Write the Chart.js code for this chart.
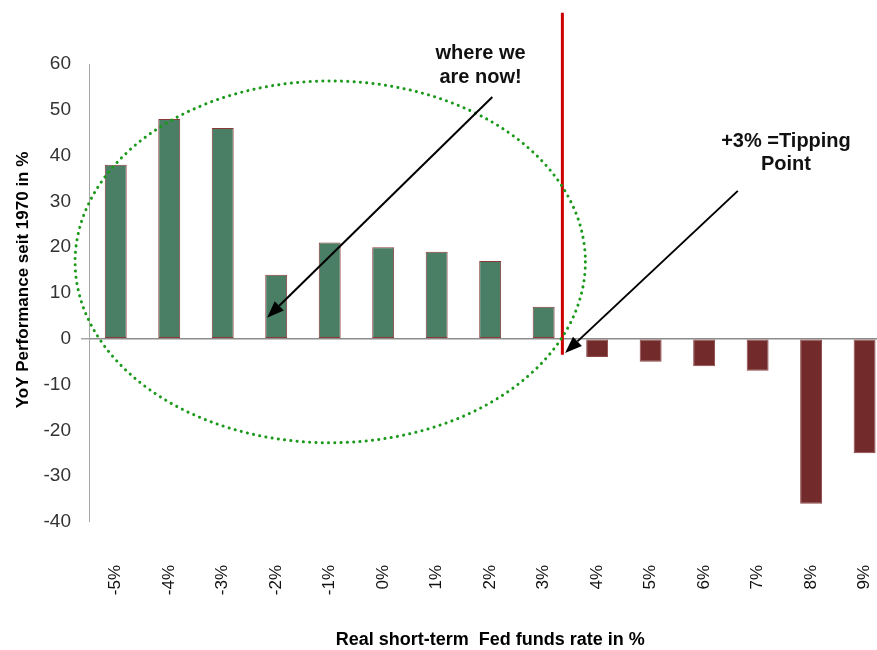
<!DOCTYPE html>
<html lang="en">
<head>
  <meta charset="UTF-8">
  <title>Real short-term Fed funds rate vs YoY performance</title>
  <style>
    html, body {
      margin: 0;
      padding: 0;
      overflow: hidden;
      background: #fff;
    }

    .chart-box {
      width: 920px;   /* plot runs a little past the right edge, like the original */
      height: 650px;
    }
  </style>
  <script src="https://cdn.jsdelivr.net/npm/chart.js"></script>
</head>

<body>
  <div class="chart-box"><canvas id="myChart"></canvas></div>

  <script>
    // data
    const rateLabels = ['-5%', '-4%', '-3%', '-2%', '-1%', '0%', '1%', '2%', '3%', '4%', '5%', '6%', '7%', '8%', '9%'];
    const perfValues = [38, 48, 46, 14, 21, 20, 19, 17, 7, -4, -5, -6, -7, -36, -25];
    const yMin = -40;
    const yMax = 60;
    const yStep = 10;

    const yTitle = 'YoY Performance seit 1970 in %';
    const xTitle = 'Real short-term  Fed funds rate in %';
    const noteNow = ['where we', 'are now!'];
    const noteTip = ['+3% =Tipping', 'Point'];

    const upFill = '#4a7f66', upEdge = '#8b3a3a';
    const downFill = '#722a2a', downEdge = '#8e4848';

    // overlay drawing: red line, dotted circle, arrows, notes and axis titles
    // (x given as category index, y as chart value)
    const overlay = {
      id: 'overlay',
      afterDraw(chart) {
        const ctx = chart.ctx;
        const xs = chart.scales.x, ys = chart.scales.y;
        const x0 = xs.getPixelForValue(0);
        const step = xs.getPixelForValue(1) - x0;
        const px = i => x0 + i * step;
        const py = v => ys.getPixelForValue(v);

        ctx.save();

        // red tipping point line
        ctx.strokeStyle = '#cc0000';
        ctx.lineWidth = 3;
        ctx.beginPath();
        ctx.moveTo(px(8.35), py(71.2));
        ctx.lineTo(px(8.35), py(-3.5));
        ctx.stroke();

        // dotted green ellipse
        ctx.strokeStyle = '#1a991a';
        ctx.lineWidth = 3;
        ctx.lineCap = 'round';
        ctx.setLineDash([0.1, 6.2]);
        ctx.beginPath();
        ctx.ellipse(px(4.01), py(16.8), 4.77 * step, py(0) - py(39.5), 0, 0, Math.PI * 2);
        ctx.stroke();
        ctx.setLineDash([]);
        ctx.lineCap = 'butt';

        // arrows
        function arrow(fx, fy, tx, ty) {
          const ang = Math.atan2(ty - fy, tx - fx);
          const len = 17, half = 6.5;
          const bx = tx - len * Math.cos(ang), by = ty - len * Math.sin(ang);
          ctx.strokeStyle = '#000';
          ctx.fillStyle = '#000';
          ctx.lineWidth = 2;
          ctx.beginPath();
          ctx.moveTo(fx, fy);
          ctx.lineTo(bx, by);
          ctx.stroke();
          ctx.beginPath();
          ctx.moveTo(tx, ty);
          ctx.lineTo(bx + half * Math.sin(ang), by - half * Math.cos(ang));
          ctx.lineTo(bx - half * Math.sin(ang), by + half * Math.cos(ang));
          ctx.closePath();
          ctx.fill();
        }
        arrow(px(7.04), py(52.8), px(2.83), py(4.6));
        arrow(px(11.63), py(32.3), px(8.40), py(-3.1));

        // notes
        ctx.fillStyle = '#111';
        ctx.font = 'bold 20px "Liberation Sans", Arial, sans-serif';
        ctx.textAlign = 'center';
        ctx.textBaseline = 'middle';
        ctx.fillText(noteNow[0], px(6.82), py(62.3));
        ctx.fillText(noteNow[1], px(6.82), py(57.1));
        ctx.fillText(noteTip[0], px(12.53), py(43.0));
        ctx.fillText(noteTip[1], px(12.53), py(38.0));

        // axis titles
        ctx.fillStyle = '#000';
        ctx.font = 'bold 18px "Liberation Sans", Arial, sans-serif';
        ctx.fillText(xTitle, (chart.chartArea.left + chart.chartArea.right) / 2, 640);
        ctx.translate(23, 280);
        ctx.rotate(-Math.PI / 2);
        ctx.font = 'bold 17px "Liberation Sans", Arial, sans-serif';
        ctx.fillText(yTitle, 0, 0);

        ctx.restore();
      }
    };

    const ctx = document.getElementById('myChart').getContext('2d');
    window.myChart = new Chart(ctx, {
      type: 'bar',
      data: {
        labels: rateLabels,
        datasets: [{
          data: perfValues,
          backgroundColor: perfValues.map(v => v >= 0 ? upFill : downFill),
          borderColor: perfValues.map(v => v >= 0 ? upEdge : downEdge),
          borderWidth: 1,
          borderSkipped: false,
          categoryPercentage: 1,
          barPercentage: 0.41
        }]
      },
      options: {
        responsive: true,
        maintainAspectRatio: false,
        animation: false,
        layout: { padding: { top: 64, left: 0, right: 0, bottom: 0 } },
        plugins: {
          legend: { display: false },
          tooltip: { enabled: false }
        },
        scales: {
          x: {
            type: 'category',
            grid: { display: false },
            border: { display: false },
            ticks: {
              autoSkip: false,
              minRotation: 90,
              maxRotation: 90,
              padding: 35,
              color: '#111',
              font: { family: '"Liberation Sans", Arial, sans-serif', size: 17 }
            },
            afterFit(scale) { scale.height = 128; }
          },
          y: {
            min: yMin,
            max: yMax,
            ticks: {
              stepSize: yStep,
              padding: 10,
              color: '#333',
              font: { family: '"Liberation Sans", Arial, sans-serif', size: 19 }
            },
            grid: {
              drawOnChartArea: true,
              color: c => c.tick && c.tick.value === 0 ? '#8c8c8c' : 'rgba(0,0,0,0)',
              lineWidth: c => c.tick && c.tick.value === 0 ? 1.5 : 0,
              tickColor: '#a6a6a6',
              tickLength: 8
            },
            border: { color: '#a6a6a6', width: 1 },
            afterFit(scale) { scale.width = 89; }
          }
        }
      },
      plugins: [overlay]
    });
  </script>
</body>
</html>
